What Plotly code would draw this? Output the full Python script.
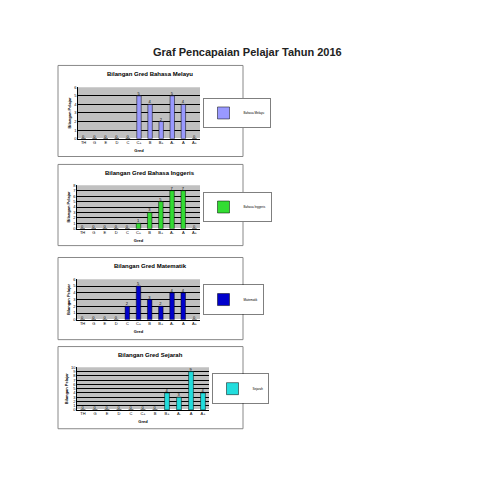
import plotly.graph_objects as go

W = H = 495
OFF = 8  # page body margin offset
grades = ["TH", "G", "E", "D", "C", "C+", "B", "B+", "A-", "A", "A+"]
bm = [0, 0, 0, 0, 0, 5, 4, 2, 5, 4, 0]
bi = [0, 0, 0, 0, 0, 1, 3, 5, 7, 7, 0]
mt = [0, 0, 0, 0, 2, 5, 3, 2, 4, 4, 0]
sj = [0, 0, 0, 0, 0, 0, 0, 4, 3, 9, 4]

charts = [
    # values, name, colour, ymax, box(top,bottom), plot(left,right,top,bottom)
    (bm, "Bahasa Melayu", "#9999ff", 6, (63, 155), (78, 200, 85, 137)),
    (bi, "Bahasa Inggeris", "#33dd33", 8, (163, 245), (77, 200, 184, 228)),
    (mt, "Matematik", "#0000cc", 6, (257, 340), (77, 200, 279, 320)),
    (sj, "Sejarah", "#22dddd", 10, (347, 430), (77, 209, 368, 411)),
]

def px(x):
    return (x - OFF) / W

def py(y):
    return 1 - (y - OFF) / H

fig = go.Figure()
shapes, annotations = [], []
for i, (vals, name, col, ymax, box, plot) in enumerate(charts):
    n = "" if i == 0 else str(i + 1)
    l, r, t, b = plot
    fig.add_trace(go.Bar(
        x=grades, y=vals, name=name, marker_color=col,
        marker_line=dict(color="black", width=0.5), width=0.4,
        text=vals, textposition="outside", textfont=dict(size=4, color="black"),
        cliponaxis=False, xaxis="x" + n, yaxis="y" + n, legend="legend" + n,
        showlegend=True,
    ))
    fig.update_layout({
        "xaxis" + n: dict(domain=[px(l), px(r)], anchor="y" + n, tickfont=dict(size=4),
                          title=dict(text="<b>Gred</b>", font=dict(size=4), standoff=4),
                          showline=True, linecolor="black", linewidth=0.5),
        "yaxis" + n: dict(domain=[py(b), py(t)], anchor="x" + n, range=[0, ymax], dtick=1,
                          tickfont=dict(size=4), showgrid=True, gridcolor="black", gridwidth=0.5,
                          title=dict(text="<b>Bilangan Pelajar</b>", font=dict(size=4), standoff=2),
                          showline=True, linecolor="black", linewidth=0.5),
        "legend" + n: dict(x=px(r + 3), y=py((t + b) / 2), yanchor="middle", xanchor="left",
                           font=dict(size=3), bordercolor="black", borderwidth=0.5,
                           bgcolor="white", itemwidth=30, tracegroupgap=0),
    })
    shapes.append(dict(type="rect", xref="paper", yref="paper", x0=px(58), x1=px(243),
                       y0=py(box[1]), y1=py(box[0]), line=dict(color="#888", width=1), layer="below"))
    shapes.append(dict(type="rect", xref="paper", yref="paper", x0=px(l), x1=px(r),
                       y0=py(b), y1=py(t), fillcolor="#c0c0c0", line=dict(width=0), layer="below"))
    annotations.append(dict(text="<b>Bilangan Gred " + name + "</b>", xref="paper", yref="paper",
                            x=px(150), y=py(box[0] + 9), xanchor="center", yanchor="middle",
                            showarrow=False, font=dict(size=6)))

annotations.append(dict(text="<b>Graf Pencapaian Pelajar Tahun 2016</b>", xref="paper", yref="paper",
                        x=px(247), y=py(49), xanchor="center", yanchor="middle",
                        showarrow=False, font=dict(size=11, color="#222")))

fig.update_layout(width=W, height=H, margin=dict(l=0, r=0, t=0, b=0),
                  paper_bgcolor="white", plot_bgcolor="rgba(0,0,0,0)",
                  font=dict(family="Liberation Sans", color="black"),
                  shapes=shapes, annotations=annotations, bargap=0.5, showlegend=True)
fig.write_html("out.html")
